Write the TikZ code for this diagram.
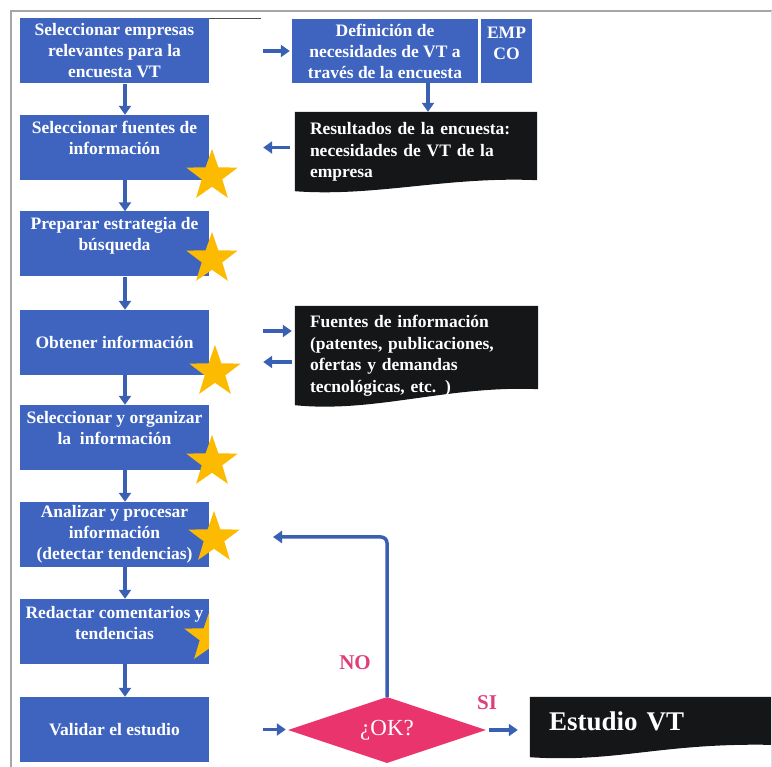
\documentclass[tikz,border=0pt]{standalone}
\usepackage{fontspec}
\setmainfont{Liberation Serif}
\usepackage{xcolor}
\usetikzlibrary{arrows.meta,shapes.geometric,backgrounds}
\definecolor{boxblue}{RGB}{62,100,192}
\definecolor{arrowblue}{RGB}{58,96,180}
\definecolor{docblack}{RGB}{20,22,24}
\definecolor{okpink}{RGB}{233,52,110}
\definecolor{labelpink}{RGB}{222,62,122}
\definecolor{stargold}{RGB}{252,186,0}
\tikzset{
  stepbox/.style={fill=boxblue, text=white, align=center, inner sep=0pt,
    font=\bfseries\fontsize{17.5}{21}\selectfont,
    minimum width=189pt, minimum height=65pt},
  docbox/.style={text=white, align=left, inner xsep=15pt, inner ysep=0pt,
    font=\bfseries\fontsize{17.5}{21.5}\selectfont},
  flow/.style={draw=arrowblue, line width=3.5pt, -{Triangle[length=9pt,width=12pt]}},
  gold star/.style={star, star points=5, star point ratio=2.5, minimum size=54pt,
    inner sep=0pt, fill=stargold},
  pinklabel/.style={text=labelpink, font=\bfseries\fontsize{21}{24}\selectfont}
}

\begin{document}
\begin{tikzpicture}[x=1pt,y=-1pt]
    \useasboundingbox (0,0) rectangle (772,767);
    % frame
    \draw[gray!70, line width=1.5pt] (11,767) -- (11,11) -- (772,11);
    \draw[gray!25, line width=1pt] (771,11) -- (771,767);
    \draw[gray!60!black, line width=1pt] (209,19) -- (261,19);

    % left column
    \node[stepbox] (s1) at (114.5,51) {Seleccionar empresas\\relevantes para la\\encuesta VT};
    \node[stepbox] (s2) at (114.5,147.5) {Seleccionar fuentes de\\informaci\'on\\[-1pt]};
    \node[stepbox] (s3) at (114.5,244) {Preparar estrategia de\\b\'usqueda\\[-1pt]};
    \node[stepbox] (s4) at (114.5,342.5) {Obtener informaci\'on};
    \node[stepbox] (s5) at (114.5,437.5) {Seleccionar y organizar\\la\ \ informaci\'on\\[-1pt]};
    \node[stepbox] (s6) at (114.5,534.5) {Analizar y procesar\\informaci\'on\\(detectar tendencias)};
    \node[stepbox] (s7) at (114.5,631.5) {Redactar comentarios y\\tendencias\\[-3pt]};
    \node[stepbox] (s8) at (114.5,729.5) {Validar el estudio};

    % stars
    \node[gold star] (st2) at (212,176) {};
    \node[gold star] (st3) at (212,259) {};
    \node[gold star] (st4) at (215,372) {};
    \node[gold star] (st5) at (212,462) {};
    \node[gold star] (st6) at (214,538) {};
    \begin{scope}
        \clip (s7.north west) rectangle (s7.south east);
        \node[gold star] (st7) at (210,637) {};
    \end{scope}

    \foreach \a/\b in {s1/s2,s2/s3,s3/s4,s4/s5,s5/s6,s6/s7,s7/s8}
        \draw[flow] ([xshift=10.5pt]\a.south) -- ([xshift=10.5pt]\b.north);

    % right column
    \node[stepbox, minimum width=186pt, minimum height=64pt] (def) at (385,51) {Definici\'on de\\necesidades de VT a\\trav\'es de la encuesta};
    \node[stepbox, minimum width=51pt, minimum height=64pt] (emp) at (506.5,51) {EMP\\CO\\[-6pt]};

    \node[docbox, minimum width=242pt, minimum height=80pt, text width=212pt] (res) at (416,152)
        {Resultados de la encuesta:\\necesidades de VT de la\\empresa};
    \node[docbox, minimum width=243pt, minimum height=100pt, text width=213pt] (fue) at (416.5,356)
        {Fuentes de informaci\'on\\(patentes, publicaciones,\\ofertas y demandas\\tecnol\'ogicas, etc. )};
    \node[docbox, minimum width=246pt, minimum height=48pt, text width=216pt, inner xsep=19pt,
        font=\bfseries\fontsize{27}{30}\selectfont] (est) at (657,721) {Estudio VT};

    \begin{scope}[on background layer]
        \fill[docblack] (res.north west) -- (res.north east) -- ([yshift=12pt]res.south east)
            .. controls +(-90,-4) and +(80,6) .. ([yshift=1pt]res.south west) -- cycle;
        \fill[docblack] (fue.north west) -- (fue.north east) -- ([yshift=17pt]fue.south east)
            .. controls +(-90,-4) and +(80,8) .. ([yshift=1pt]fue.south west) -- cycle;
        \fill[docblack] (est.north west) -- (est.north east) -- (est.south east)
            .. controls +(-120,-4) and +(90,6) .. ([yshift=-12pt]est.south west) -- cycle;
    \end{scope}

    \node[diamond, aspect=3, inner sep=0pt, minimum width=198pt, minimum height=66pt,
        fill=okpink, text=white, font=\fontsize{23}{26}\selectfont] (ok) at (387,730) {\raisebox{-5pt}{¿OK?}};
    \node[pinklabel] (lblno) at (355,663) {NO};
    \node[pinklabel] (lblsi) at (487,703) {SI};
    \coordinate (back) at (273,537);

    % connectors
    \draw[flow, shorten <=54pt, shorten >=2pt] (s1.east) -- (def.west);
    \draw[flow] ([xshift=43pt]def.south) -- ([xshift=43pt]def.south |- res.north);
    \draw[flow, shorten <=5pt, shorten >=54pt] (res.west |- s2.east) -- (s2.east);
    \draw[flow, shorten <=54pt, shorten >=3pt] ([yshift=11.5pt]s4.east) -- ([yshift=11.5pt]s4.east -| fue.west);
    \draw[flow, shorten <=3pt, shorten >=54pt] ([yshift=-19.5pt]s4.east -| fue.west) -- ([yshift=-19.5pt]s4.east);
    \draw[flow, shorten <=54pt, shorten >=2pt] (s8.east) -- (s8.east -| ok.west);
    \draw[flow, shorten <=3pt, shorten >=12pt] (ok.east) -- (ok.east -| est.west);
    \draw[flow, rounded corners=6pt] (ok.north) |- (back);
\end{tikzpicture}
\end{document}
